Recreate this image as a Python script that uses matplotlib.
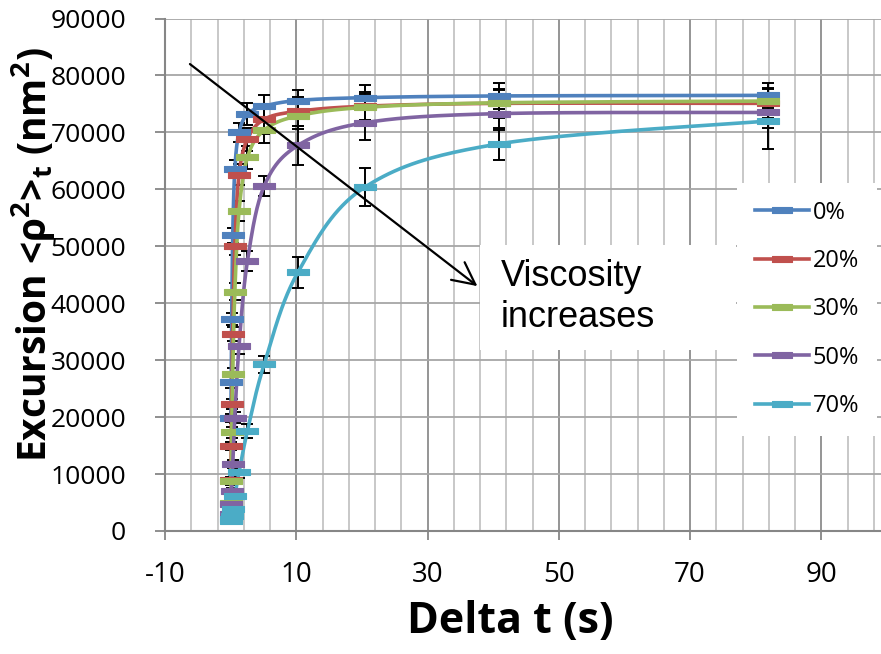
import numpy as np
import matplotlib
matplotlib.use("Agg")
import matplotlib.pyplot as plt
from matplotlib.patches import Rectangle
from matplotlib.path import Path
from matplotlib.ticker import MultipleLocator, FixedLocator

# ---------------- data ----------------
delta_t = [0.04, 0.08, 0.16, 0.32, 0.64, 1.28, 2.56, 5.12, 10.24, 20.48, 40.96, 81.92]

labels = ["0%", "20%", "30%", "50%", "70%"]

y_0 = [19900, 26100, 37200, 51900, 63600, 70000, 73200, 74600, 75600, 76100, 76400, 76500]
y_20 = [9000, 15000, 22300, 34600, 50000, 62600, 68800, 72300, 73700, 74600, 75100, 75100]
y_30 = [5000, 8800, 17300, 27500, 42000, 56200, 65600, 70400, 72900, 74400, 75200, 75500]
y_50 = [3000, 4700, 7100, 11800, 19900, 32500, 47400, 60600, 67700, 71700, 73300, 73500]
y_70 = [1700, 2100, 2700, 3900, 6200, 10300, 17600, 29300, 45400, 60400, 68000, 72000]

e_0 = [700, 900, 1100, 1300, 1500, 1700, 1900, 2000, 1900, 2200, 2300, 2200]
e_20 = [500, 700, 900, 1200, 1500, 1800, 2000, 2500, 2500, 2500, 2500, 2500]
e_30 = [500, 700, 900, 1200, 1500, 1800, 2000, 2200, 2300, 2300, 2300, 2300]
e_50 = [300, 400, 500, 700, 1000, 1500, 1800, 1800, 3400, 3100, 2800, 2700]
e_70 = [300, 400, 500, 600, 800, 1000, 1200, 1500, 2700, 3300, 2800, 4900]

x_ticks = [-10, 10, 30, 50, 70, 90]
y_ticks = [0, 10000, 20000, 30000, 40000, 50000, 60000, 70000, 80000, 90000]

colors = ["#4F81BD", "#C0504D", "#9BBB59", "#8064A2", "#4BACC6"]

series = [y_0, y_20, y_30, y_50, y_70]
errors = [e_0, e_20, e_30, e_50, e_70]

XLIM = (-10, 99.1)
YLIM = (0, 90000)

# ---------------- figure ----------------
W_PX, H_PX = 881, 654
fig = plt.figure(figsize=(W_PX / 100, H_PX / 100), dpi=100)
ax_l, ax_r, ax_t, ax_b = 165, 881, 18.5, 531
ax = fig.add_axes([ax_l / W_PX, (H_PX - ax_b) / H_PX,
                   (ax_r - ax_l) / W_PX, (ax_b - ax_t) / H_PX])
ax.set_xlim(*XLIM)
ax.set_ylim(*YLIM)

# grid
ax.set_axisbelow(True)
ax.xaxis.set_major_locator(FixedLocator(x_ticks))
ax.xaxis.set_minor_locator(MultipleLocator(4, offset=2))
ax.yaxis.set_major_locator(FixedLocator(y_ticks))
ax.grid(which="major", axis="x", color="#8C8C8C", lw=1.3)
ax.grid(which="minor", axis="x", color="#C4C4C4", lw=1.3)
ax.grid(which="major", axis="y", color="#A6A6A6", lw=1.3)

for s in ["top", "right"]:
    ax.spines[s].set_visible(False)
for s in ["left", "bottom"]:
    ax.spines[s].set_color("#868686")
    ax.spines[s].set_linewidth(1.5)

ax.tick_params(axis="x", which="major", direction="out", length=6.5, width=1.3,
               color="#868686", pad=15)
ax.tick_params(axis="x", which="minor", length=0)
ax.tick_params(axis="y", which="major", direction="out", length=7, width=1.3,
               color="#868686", pad=21)
ax.set_xticklabels([str(v) for v in x_ticks], fontfamily="Open Sans", fontsize=20)
ax.set_yticklabels([str(v) for v in y_ticks], fontfamily="Open Sans", fontsize=19)

# smoothing (Excel-like Catmull-Rom Bezier in screen space)
PW = ax_r - ax_l
PH = ax_b - ax_t


def smooth(x, y, n=40):
    x = np.asarray(x, float)
    y = np.asarray(y, float)
    px = (x - XLIM[0]) / (XLIM[1] - XLIM[0]) * PW
    py = (y - YLIM[0]) / (YLIM[1] - YLIM[0]) * PH
    P = np.column_stack([px, py])
    t = np.linspace(0, 1, n)[:, None]
    segs = []
    for i in range(len(P) - 1):
        p0 = P[i - 1] if i > 0 else P[i]
        p1, p2 = P[i], P[i + 1]
        p3 = P[i + 2] if i + 2 < len(P) else P[i + 1]
        c1 = p1 + (p2 - p0) / 6.0
        c2 = p2 - (p3 - p1) / 6.0
        B = ((1 - t) ** 3) * p1 + 3 * ((1 - t) ** 2) * t * c1 + 3 * (1 - t) * t ** 2 * c2 + t ** 3 * p2
        segs.append(B if i == 0 else B[1:])
    B = np.vstack(segs)
    xs = B[:, 0] / PW * (XLIM[1] - XLIM[0]) + XLIM[0]
    ys = B[:, 1] / PH * (YLIM[1] - YLIM[0]) + YLIM[0]
    return xs, ys


dash = Path([(-1, -0.3), (1, -0.3), (1, 0.3), (-1, 0.3), (-1, -0.3)],
            [Path.MOVETO, Path.LINETO, Path.LINETO, Path.LINETO, Path.CLOSEPOLY])

handles = []
for yv, ev, c, lab in zip(series, errors, colors, labels):
    ax.errorbar(delta_t, yv, yerr=ev, fmt="none", ecolor="black", elinewidth=1.4,
                capsize=4, capthick=1.4, zorder=2)
    xs, ys = smooth(delta_t, yv)
    ax.plot(xs, ys, color=c, lw=2.6, zorder=3, solid_capstyle="round")
    ax.plot(delta_t, yv, ls="none", marker=dash, ms=16, mfc=c, mec=c, mew=0.8, zorder=4)
    h, = ax.plot([], [], color=c, lw=2.6, marker=dash, ms=14, mfc=c, mec=c, mew=0.8)
    handles.append(h)

# arrow
ax.annotate("", xy=(37.6, 43000), xytext=(-6.2, 82000),
            arrowprops=dict(arrowstyle="->,head_length=0.8,head_width=0.4",
                            color="black", lw=1.6, mutation_scale=20,
                            shrinkA=0, shrinkB=0), zorder=6)

# text box
fig.patches.append(Rectangle((480 / W_PX, (H_PX - 350) / H_PX), 256 / W_PX, 105 / H_PX,
                             transform=fig.transFigure, facecolor="white",
                             edgecolor="none", zorder=5))
fig.text(501 / W_PX, (H_PX - 297) / H_PX, "Viscosity\nincreases", fontsize=26,
         fontfamily="Liberation Sans", ha="left", va="center", linespacing=1.2,
         zorder=7)

# legend
leg = ax.legend(handles=handles, labels=labels, loc="upper left",
                bbox_to_anchor=(737 / W_PX, (H_PX - 183) / H_PX),
                bbox_transform=fig.transFigure, frameon=True, fancybox=False,
                framealpha=1, edgecolor="none", facecolor="white",
                prop={"family": "Open Sans", "size": 17}, handlelength=2.3,
                handletextpad=0.15, labelspacing=1.03, borderpad=0.75,
                borderaxespad=0, numpoints=1)
leg.set_zorder(8)

# axis labels
plt.rcParams["mathtext.fontset"] = "custom"
plt.rcParams["mathtext.rm"] = "Open Sans:bold"
plt.rcParams["mathtext.it"] = "Open Sans:bold"
plt.rcParams["mathtext.bf"] = "Open Sans:bold"
fig.text(510 / W_PX, (H_PX - 622) / H_PX, "Delta t (s)", fontsize=31,
         fontfamily="Open Sans", fontweight="bold", ha="center", va="center")
fig.text(33 / W_PX, (H_PX - 255) / H_PX, r"Excursion <ρ$^{2}$>$_{t}$ (nm$^{2}$)",
         fontsize=28, fontfamily="Open Sans", fontweight="bold", rotation=90,
         ha="center", va="center")

fig.savefig("out.png", dpi=100)
